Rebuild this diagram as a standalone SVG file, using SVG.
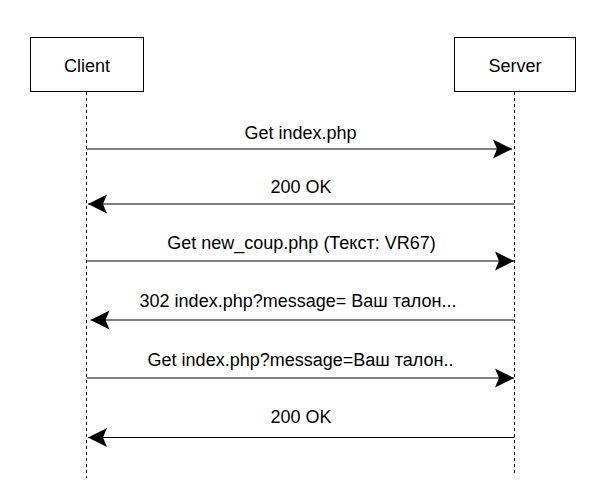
<svg xmlns="http://www.w3.org/2000/svg" width="608" height="503" viewBox="0 0 608 503">
<style>
.box{fill:#fff;stroke:#000;stroke-width:1}
.life{stroke:#000;stroke-width:1;stroke-dasharray:3 3;fill:none}
.msg{stroke:#000;stroke-width:1;fill:none;marker-end:url(#arr)}
text{font-family:"Liberation Sans",Arial,sans-serif;font-size:18px;fill:#000;text-anchor:middle}
</style>
<defs>
<marker id="arr" markerUnits="userSpaceOnUse" markerWidth="22" markerHeight="22" viewBox="-20 -11 22 22" refX="0" refY="0" orient="auto">
<path d="M0,0 L-19,-9.5 L-15,0 L-19,9.5 Z" fill="#000"/>
</marker>
</defs>
<rect width="608" height="503" fill="#fff"/>
<g id="client">
<rect class="box" x="30.5" y="37.5" width="113" height="54"/>
<text x="87" y="72">Client</text>
<line class="life" x1="86.5" y1="92" x2="86.5" y2="478"/>
</g>
<g id="server">
<rect class="box" x="454.5" y="37.5" width="121" height="54"/>
<text x="515" y="72">Server</text>
<line class="life" x1="514.5" y1="92" x2="514.5" y2="476"/>
</g>
<g id="connectors">
<line class="msg" x1="86.5" y1="149" x2="512" y2="149"/>
<line class="msg" x1="514.5" y1="204" x2="88" y2="204"/>
<line class="msg" x1="86.5" y1="261" x2="514" y2="261"/>
<line class="msg" x1="514.5" y1="320" x2="90.5" y2="320"/>
<line class="msg" x1="86.5" y1="378" x2="514" y2="378"/>
<line class="msg" x1="514.5" y1="437.5" x2="88" y2="437.5"/>
</g>
<g id="labels">
<text x="300.5" y="138.5">Get index.php</text>
<text x="301" y="193">200 OK</text>
<text x="301.5" y="248.5">Get new_coup.php (Текст: VR67)</text>
<text x="298" y="306.5">302 index.php?message= Ваш талон...</text>
<text x="300.5" y="366">Get index.php?message=Ваш талон..</text>
<text x="301" y="423">200 OK</text>
</g>
</svg>
